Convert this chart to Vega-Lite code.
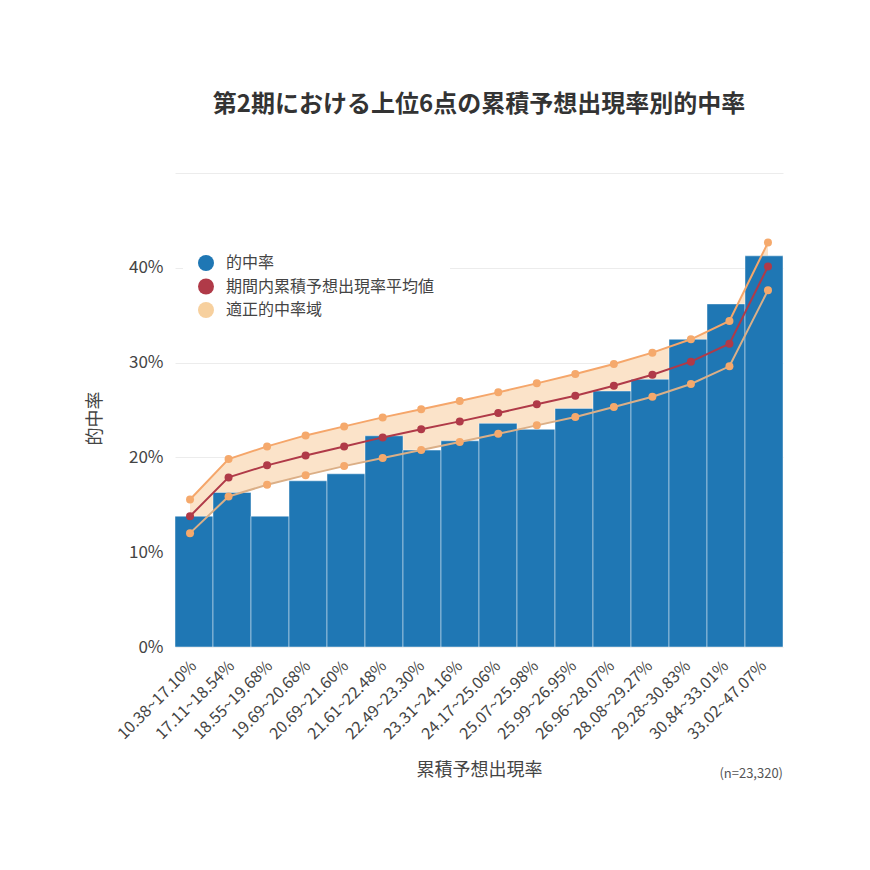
{
  "$schema": "https://vega.github.io/schema/vega-lite/v6.json",
  "autosize": {"type": "none"},
  "padding": {"left": 175, "top": 173, "right": 87, "bottom": 223},
  "width": 608,
  "height": 474,
  "background": "white",
  "config": {
    "font": "Noto Sans CJK JP",
    "view": {"stroke": null},
    "axis": {"labelColor": "#444", "titleColor": "#444", "titleFontWeight": "normal"}
  },
  "title": {
    "text": "第2期における上位6点の累積予想出現率別的中率",
    "fontSize": 24,
    "fontWeight": "bold",
    "color": "#333",
    "anchor": "middle",
    "offset": 56
  },
  "data": {
    "values": [
      {"range": "10.38~17.10%", "hit": 13.80, "mean": 13.80, "upper": 15.56, "lower": 12.01},
      {"range": "17.11~18.54%", "hit": 16.30, "mean": 17.89, "upper": 19.82, "lower": 15.88},
      {"range": "18.55~19.68%", "hit": 13.80, "mean": 19.16, "upper": 21.16, "lower": 17.11},
      {"range": "19.69~20.68%", "hit": 17.53, "mean": 20.21, "upper": 22.32, "lower": 18.13},
      {"range": "20.69~21.60%", "hit": 18.27, "mean": 21.16, "upper": 23.27, "lower": 19.08},
      {"range": "21.61~22.48%", "hit": 22.28, "mean": 22.11, "upper": 24.22, "lower": 19.93},
      {"range": "22.49~23.30%", "hit": 20.77, "mean": 22.96, "upper": 25.07, "lower": 20.77},
      {"range": "23.31~24.16%", "hit": 21.75, "mean": 23.80, "upper": 25.94, "lower": 21.62},
      {"range": "24.17~25.06%", "hit": 23.59, "mean": 24.68, "upper": 26.86, "lower": 22.49},
      {"range": "25.07~25.98%", "hit": 22.96, "mean": 25.60, "upper": 27.81, "lower": 23.38},
      {"range": "25.99~26.95%", "hit": 25.17, "mean": 26.50, "upper": 28.80, "lower": 24.26},
      {"range": "26.96~28.07%", "hit": 27.00, "mean": 27.56, "upper": 29.85, "lower": 25.31},
      {"range": "28.08~29.27%", "hit": 28.24, "mean": 28.72, "upper": 31.05, "lower": 26.40},
      {"range": "29.28~30.83%", "hit": 32.46, "mean": 30.10, "upper": 32.46, "lower": 27.74},
      {"range": "30.84~33.01%", "hit": 36.19, "mean": 32.00, "upper": 34.39, "lower": 29.61},
      {"range": "33.02~47.07%", "hit": 41.26, "mean": 40.13, "upper": 42.66, "lower": 37.63}
    ]
  },
  "encoding": {
    "y": {
      "type": "quantitative",
      "scale": {"domain": [0, 50], "nice": false},
      "axis": {
        "title": "的中率",
        "values": [0, 10, 20, 30, 40, 50],
        "labelExpr": "datum.value >= 50 ? '' : datum.value + '%'",
        "labelFontSize": 17,
        "labelPadding": 12,
        "ticks": false,
        "domain": false,
        "gridColor": "#ececec",
        "gridWidth": 1,
        "titleFontSize": 18,
        "titleX": -80,
        "titleY": 245,
        "titleBaseline": "middle",
        "titleAngle": -90
      }
    }
  },
  "layer": [
    {
      "mark": {"type": "area", "color": "#fbe3c9", "opacity": 1},
      "encoding": {
        "x": {"field": "range", "type": "ordinal", "sort": null, "scale": {"type": "point", "padding": 0.39}, "axis": null},
        "y": {"field": "upper"},
        "y2": {"field": "lower"}
      }
    },
    {
      "mark": {"type": "bar", "stroke": "white", "strokeOpacity": 0.45, "strokeWidth": 1},
      "encoding": {
        "x": {
          "field": "range",
          "type": "ordinal",
          "sort": null,
          "scale": {"type": "band", "paddingInner": 0, "paddingOuter": 0},
          "axis": {
            "title": "累積予想出現率",
            "labelAngle": -45,
            "labelAlign": "right",
            "labelBaseline": "middle",
            "labelFontSize": 16,
            "labelPadding": 16,
            "ticks": false,
            "domain": false,
            "grid": false,
            "titleFontSize": 18,
            "titleY": 123,
            "titleBaseline": "middle"
          }
        },
        "y": {"field": "hit"},
        "fill": {
          "datum": "的中率",
          "type": "nominal",
          "scale": {
            "domain": ["的中率", "期間内累積予想出現率平均値", "適正的中率域"],
            "range": ["#1f77b4", "#b03a48", "#f7d09e"]
          },
          "legend": {
            "title": null,
            "orient": "none",
            "legendX": 8,
            "legendY": 67,
            "padding": 15,
            "fillColor": "white",
            "symbolType": "circle",
            "symbolSize": 256,
            "symbolStrokeWidth": 0,
            "symbolOpacity": 1,
            "labelFontSize": 16,
            "labelColor": "#444",
            "labelOffset": 12,
            "labelLimit": 400,
            "rowPadding": 7.5
          }
        }
      }
    },
    {
      "mark": {"type": "line", "color": "#dbaf87", "strokeWidth": 2, "point": {"filled": true, "color": "#f5a96c", "size": 64}},
      "encoding": {
        "x": {"field": "range", "type": "ordinal", "sort": null, "scale": {"type": "point", "padding": 0.39}, "axis": null},
        "y": {"field": "lower"}
      }
    },
    {
      "mark": {"type": "line", "color": "#f5a66a", "strokeWidth": 2, "point": {"filled": true, "color": "#f5a96c", "size": 64}},
      "encoding": {
        "x": {"field": "range", "type": "ordinal", "sort": null, "scale": {"type": "point", "padding": 0.39}, "axis": null},
        "y": {"field": "upper"}
      }
    },
    {
      "mark": {"type": "line", "color": "#b03a48", "strokeWidth": 2, "point": {"filled": true, "color": "#b03a48", "size": 64}},
      "encoding": {
        "x": {"field": "range", "type": "ordinal", "sort": null, "scale": {"type": "point", "padding": 0.39}, "axis": null},
        "y": {"field": "mean"}
      }
    },
    {
      "data": {"values": [{"label": "(n=23,320)", "range": "33.02~47.07%", "base": 0}]},
      "mark": {"type": "text", "align": "right", "baseline": "middle", "fontSize": 13, "color": "#555", "dx": 19, "dy": 127},
      "encoding": {
        "text": {"field": "label"},
        "x": {
          "field": "range",
          "type": "ordinal",
          "scale": {
            "type": "band",
            "paddingInner": 0,
            "paddingOuter": 0,
            "domain": ["10.38~17.10%", "17.11~18.54%", "18.55~19.68%", "19.69~20.68%", "20.69~21.60%", "21.61~22.48%", "22.49~23.30%", "23.31~24.16%", "24.17~25.06%", "25.07~25.98%", "25.99~26.95%", "26.96~28.07%", "28.08~29.27%", "29.28~30.83%", "30.84~33.01%", "33.02~47.07%"]
          },
          "axis": null
        },
        "y": {"field": "base", "type": "quantitative"}
      }
    }
  ],
  "resolve": {"scale": {"x": "independent", "fill": "shared"}}
}
